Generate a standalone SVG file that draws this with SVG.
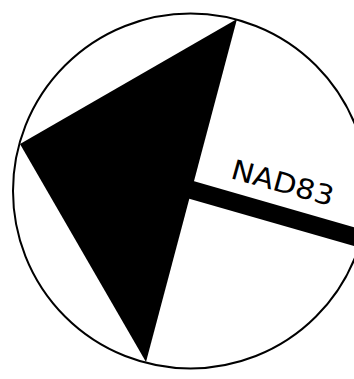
<svg xmlns="http://www.w3.org/2000/svg" width="354" height="379" viewBox="0 0 354 379">
  <style>
    .ring { fill: none; stroke: #000; stroke-width: 2; }
    .needle { fill: #000; stroke: none; }
    .bar { stroke: #000; stroke-width: 18; stroke-linecap: butt; }
    .label { font-family: "DejaVu Sans", "Liberation Sans", sans-serif; font-size: 27.5px; fill: #000; }
  </style>
  <rect x="0" y="0" width="354" height="379" fill="#fff"/>
  <g id="compass">
    <circle class="ring" cx="190.5" cy="191" r="177.5"/>
    <polygon class="needle" points="237,19 20,144 146,362"/>
    <line class="bar" x1="190" y1="189.5" x2="385" y2="245.5"/>
  </g>
  <g id="label">
    <text class="label" transform="translate(229.5,178) rotate(15.5)" x="0" y="0" textLength="105" lengthAdjust="spacingAndGlyphs">NAD83</text>
  </g>
</svg>
